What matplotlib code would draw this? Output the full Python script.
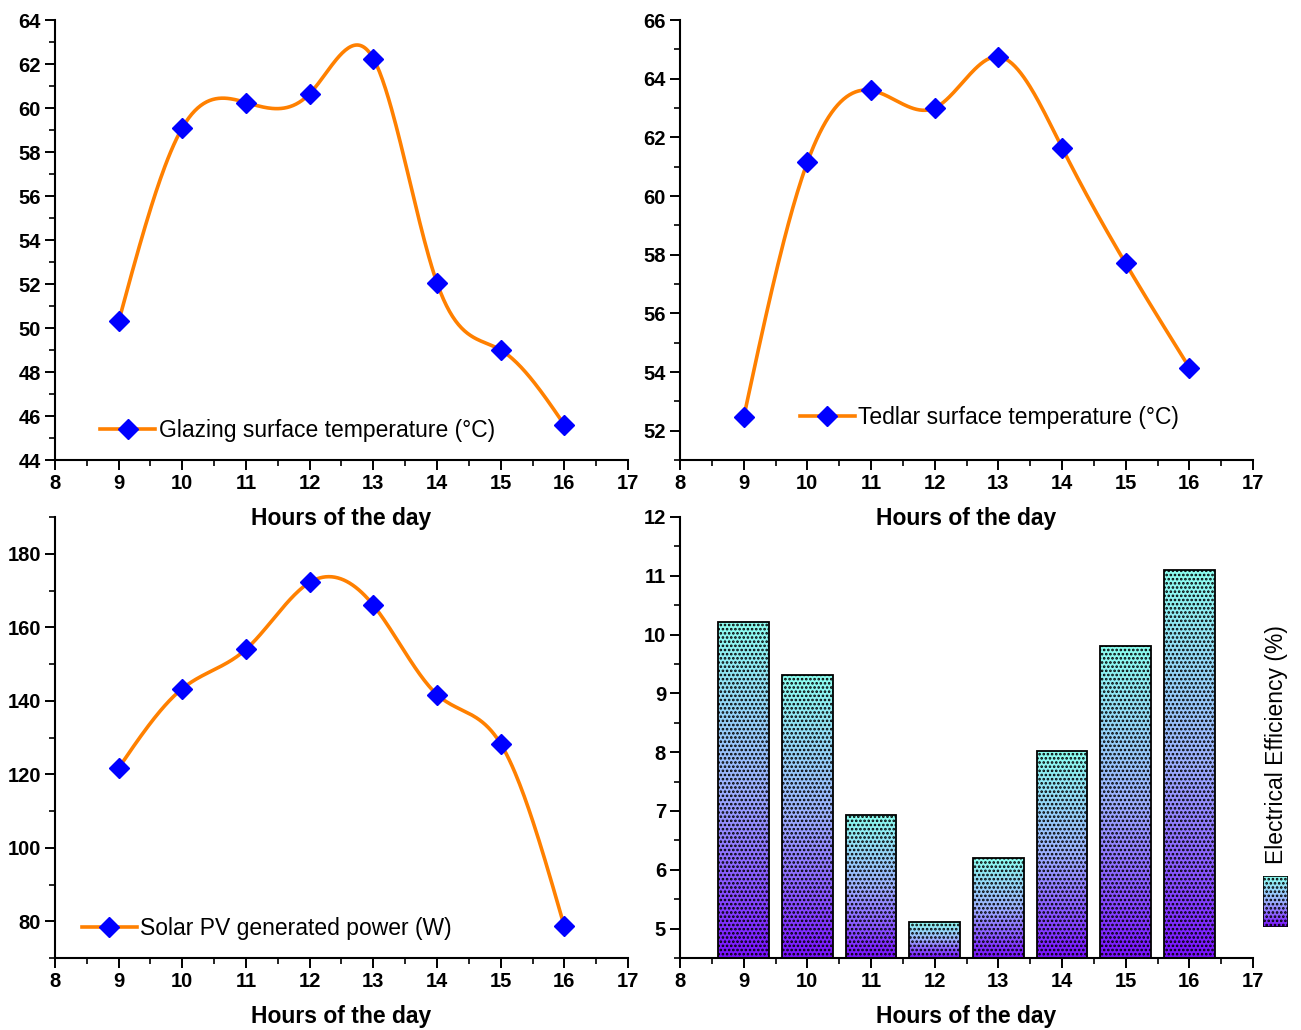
import numpy as np
import matplotlib
matplotlib.use("Agg")
import matplotlib.pyplot as plt
from matplotlib.colors import LinearSegmentedColormap
from matplotlib.ticker import MultipleLocator

# data
hours = [9, 10, 11, 12, 13, 14, 15, 16]
glazing_temp = [50.3, 59.1, 60.25, 60.65, 62.25, 52.05, 49.0, 45.6]
tedlar_temp = [52.45, 61.15, 63.6, 63.0, 64.75, 61.65, 57.7, 54.15]
pv_power = [121.7, 143.3, 154.0, 172.2, 166.0, 141.7, 128.3, 78.6]
efficiency = [10.22, 9.32, 6.93, 5.12, 6.2, 8.02, 9.8, 11.1]

plt.rcParams['font.family'] = ['Liberation Sans', 'DejaVu Sans']
plt.rcParams['hatch.linewidth'] = 1.25

ORANGE = '#FF8000'
BLUE = '#0000FF'
grad = LinearSegmentedColormap.from_list('eff', ['#7A10FF', '#9DB0FF', '#8CFFF0'])


def natural_spline(x, y, n=300):
    # natural cubic spline through the points, just for the smooth look
    x = np.asarray(x, float)
    y = np.asarray(y, float)
    k = len(x)
    h = np.diff(x)
    A = np.zeros((k, k))
    b = np.zeros(k)
    A[0, 0] = A[-1, -1] = 1
    for i in range(1, k - 1):
        A[i, i - 1] = h[i - 1]
        A[i, i] = 2 * (h[i - 1] + h[i])
        A[i, i + 1] = h[i]
        b[i] = 3 * ((y[i + 1] - y[i]) / h[i] - (y[i] - y[i - 1]) / h[i - 1])
    c = np.linalg.solve(A, b)
    xs = np.linspace(x[0], x[-1], n)
    idx = np.clip(np.searchsorted(x, xs) - 1, 0, k - 2)
    dx = xs - x[idx]
    bb = (y[idx + 1] - y[idx]) / h[idx] - h[idx] * (2 * c[idx] + c[idx + 1]) / 3
    d = (c[idx + 1] - c[idx]) / (3 * h[idx])
    ys = y[idx] + bb * dx + c[idx] * dx ** 2 + d * dx ** 3
    return xs, ys


def style_axis(ax, ymin, ymax, ymajor, yminor):
    ax.set_facecolor('none')
    ax.spines['top'].set_visible(False)
    ax.spines['right'].set_visible(False)
    for s in ['left', 'bottom']:
        ax.spines[s].set_linewidth(1.5)
    ax.set_xlim(8, 17)
    ax.set_ylim(ymin, ymax)
    ax.xaxis.set_major_locator(MultipleLocator(1))
    ax.xaxis.set_minor_locator(MultipleLocator(0.5))
    ax.yaxis.set_major_locator(MultipleLocator(ymajor))
    ax.yaxis.set_minor_locator(MultipleLocator(yminor))
    ax.tick_params(which='major', direction='out', length=7, width=1.4, labelsize=14.5, pad=3)
    ax.tick_params(which='minor', direction='out', length=4, width=1.2)
    for lab in ax.get_xticklabels() + ax.get_yticklabels():
        lab.set_fontweight('bold')
    ax.set_xlabel('Hours of the day', fontsize=16.5, fontweight='bold', labelpad=10)


def line_panel(ax, y, label, ylims, ymajor, yminor, legend_anchor):
    xs, ys = natural_spline(hours, y)
    ax.plot(xs, ys, color=ORANGE, lw=2.6, zorder=2)
    ax.plot(hours, y, linestyle='none', marker='D', markersize=10,
            color=BLUE, zorder=3)
    ax.plot([], [], color=ORANGE, lw=2.6, marker='D', markersize=10,
            markerfacecolor=BLUE, markeredgecolor=BLUE, label=label)
    style_axis(ax, ylims[0], ylims[1], ymajor, yminor)
    ax.legend(loc='lower left', bbox_to_anchor=legend_anchor, frameon=False,
              fontsize=16.5, handlelength=2.4, handletextpad=0.15, borderaxespad=0)


fig = plt.figure(figsize=(13.01, 10.30), dpi=100)
W, H = 1301, 1030


def px_axes(x0, y0, x1, y1):
    return fig.add_axes([x0 / W, 1 - y1 / H, (x1 - x0) / W, (y1 - y0) / H])


ax1 = px_axes(55, 20, 628, 460)
ax2 = px_axes(680, 20, 1253, 460)
ax3 = px_axes(55, 517, 628, 958)
ax4 = px_axes(680, 517, 1253, 958)

line_panel(ax1, glazing_temp, 'Glazing surface temperature (°C)', (44, 64), 2, 1, (0.063, 0.02))
line_panel(ax2, tedlar_temp, 'Tedlar surface temperature (°C)', (51, 66), 2, 1, (0.193, 0.05))
line_panel(ax3, pv_power, 'Solar PV generated power (W)', (70, 190), 20, 10, (0.031, 0.02))

# bar panel: per-bar vertical gradient with dotted hatch on top
base = 4.5
bars = ax4.bar(hours, np.array(efficiency) - base, bottom=base, width=0.8,
               facecolor='none', edgecolor='black', linewidth=1.3,
               hatch='....', zorder=3)
gvals = np.linspace(0, 1, 256).reshape(-1, 1)
for b in bars:
    x0, y0 = b.get_x(), b.get_y()
    im = ax4.imshow(gvals, cmap=grad, origin='lower', aspect='auto',
                    extent=[x0, x0 + b.get_width(), y0, y0 + b.get_height()],
                    zorder=2)
    im.set_clip_path(b)
style_axis(ax4, base, 12, 1, 0.5)

# legend for the bars, drawn at the right edge
lax = px_axes(1263, 876, 1288, 927)
lax.imshow(gvals, cmap=grad, origin='lower', aspect='auto', extent=[0, 1, 0, 1])
lax.add_patch(plt.Rectangle((0, 0), 1, 1, facecolor='none', edgecolor='black',
                            hatch='....', linewidth=1.2))
lax.set_xlim(0, 1)
lax.set_ylim(0, 1)
lax.axis('off')
fig.text(1276 / W, 1 - 745 / H, 'Electrical Efficiency (%)', rotation=90,
         ha='center', va='center', fontsize=16.5)

fig.savefig('out.png', dpi=100)
